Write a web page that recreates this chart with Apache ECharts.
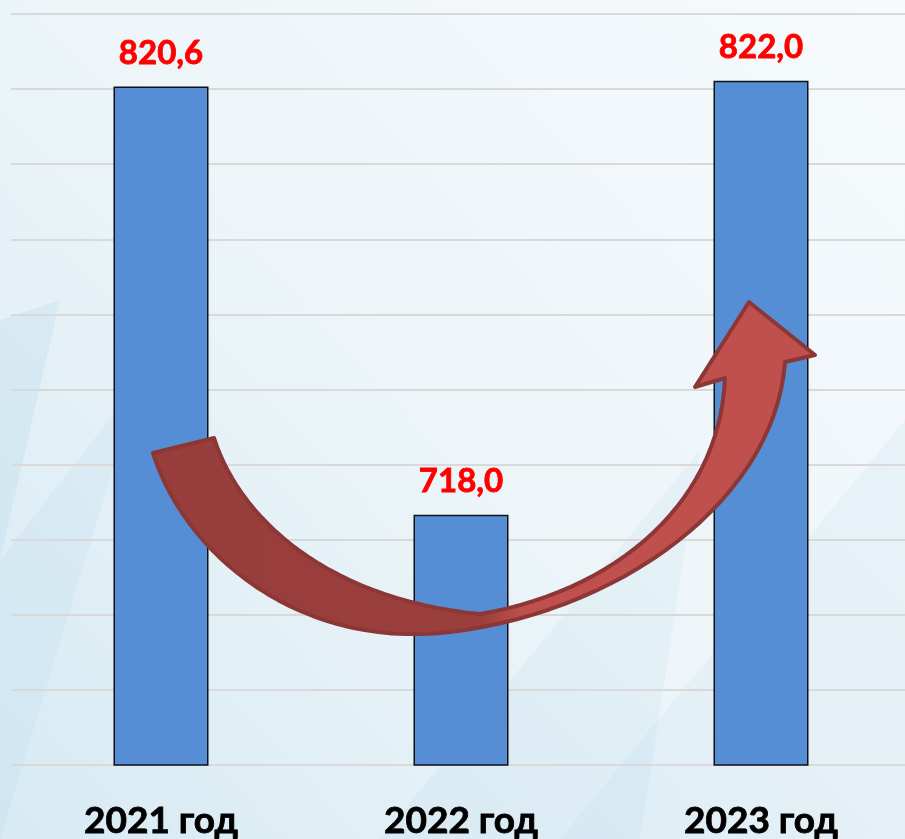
<!DOCTYPE html>
<html>
<head>
<meta charset="utf-8">
<script src="https://cdn.jsdelivr.net/npm/echarts@6/dist/echarts.min.js"></script>
<style>
  html, body { margin: 0; padding: 0; }
  #chart { width: 905px; height: 839px; }
</style>
</head>
<body>
<div id="chart"></div>
<script>
// data
const years = ['2021 год', '2022 год', '2023 год'];
const values = [820.6, 718.0, 822.0];

// axis: hidden labels, gridlines every 18 units
const axisMin = 658;
const axisMax = 838;
const axisStep = 18;

// sample a cubic bezier into points (for the curved arrow outline)
function bezier(p0, p1, p2, p3, n) {
  const pts = [];
  for (let i = 1; i <= n; i++) {
    const t = i / n, u = 1 - t;
    pts.push([
      u * u * u * p0[0] + 3 * u * u * t * p1[0] + 3 * u * t * t * p2[0] + t * t * t * p3[0],
      u * u * u * p0[1] + 3 * u * u * t * p1[1] + 3 * u * t * t * p2[1] + t * t * t * p3[1],
    ]);
  }
  return pts;
}

const arrowPts = [[153, 453], [214, 438]]
  .concat(bezier([214, 438], [240, 520], [330, 600], [480, 614], 30))
  .concat(bezier([480, 614], [620, 590], [720, 500], [725, 378], 30))
  .concat([[695, 387], [749, 302], [815, 355], [785, 362]])
  .concat(bezier([785, 362], [775, 500], [620, 612], [450, 632], 30))
  .concat(bezier([450, 632], [300, 650], [185, 555], [153, 453], 30));

const chart = echarts.init(document.getElementById('chart'));

const option = {
  animation: false,
  backgroundColor: new echarts.graphic.LinearGradient(1, 0, 0, 1, [
    { offset: 0, color: '#f6fafd' },
    { offset: 0.5, color: '#edf5f9' },
    { offset: 1, color: '#d7eaf3' },
  ]),
  grid: {
    left: 11,
    top: 14,
    bottom: 74,
    right: -6,
    outerBoundsMode: 'none',
  },
  xAxis: {
    type: 'category',
    data: years,
    axisLine: { show: false },
    axisTick: { show: false },
    axisLabel: {
      margin: 38,
      color: '#000',
      fontFamily: 'Lato',
      fontWeight: 'bold',
      fontSize: 37,
      textBorderColor: '#000',
      textBorderWidth: 0.8,
    },
  },
  yAxis: {
    type: 'value',
    min: axisMin,
    max: axisMax,
    interval: axisStep,
    axisLabel: { show: false },
    axisLine: { show: false },
    axisTick: { show: false },
    splitLine: {
      lineStyle: { color: '#d9d9d9', width: 2 },
    },
  },
  series: [
    {
      type: 'bar',
      data: values,
      barWidth: 95,
      itemStyle: {
        color: '#558ed5',
        borderColor: '#111',
        borderWidth: 1.5,
      },
      label: {
        show: true,
        position: 'top',
        distance: 17,
        color: '#ff0000',
        fontFamily: 'Lato',
        fontWeight: 'bold',
        fontSize: 33,
        textBorderColor: '#ff0000',
        textBorderWidth: 0.8,
        formatter: (p) => p.value.toFixed(1).replace('.', ','),
      },
      z: 2,
    },
  ],
  graphic: [
    // faint background facets
    {
      type: 'polygon',
      z: -10,
      silent: true,
      shape: { points: [[0, 320], [60, 300], [0, 560]] },
      style: { fill: 'rgba(150,200,225,0.16)' },
    },
    {
      type: 'polygon',
      z: -10,
      silent: true,
      shape: { points: [[0, 560], [140, 380], [0, 839]] },
      style: { fill: 'rgba(150,200,225,0.11)' },
    },
    {
      type: 'polygon',
      z: -10,
      silent: true,
      shape: { points: [[560, 839], [905, 420], [905, 839]] },
      style: { fill: 'rgba(170,210,230,0.13)' },
    },
    {
      type: 'polygon',
      z: -10,
      silent: true,
      shape: { points: [[380, 839], [700, 450], [640, 839]] },
      style: { fill: 'rgba(160,205,228,0.12)' },
    },
    // curved arrow annotation
    {
      type: 'polygon',
      z: 100,
      silent: true,
      shape: { points: arrowPts },
      style: {
        fill: new echarts.graphic.LinearGradient(0, 0, 1, 0, [
          { offset: 0, color: '#973d3b' },
          { offset: 0.5, color: '#9b3f3d' },
          { offset: 0.56, color: '#c0504d' },
          { offset: 1, color: '#c0504d' },
        ]),
        stroke: '#8c3735',
        lineWidth: 4,
        lineJoin: 'round',
      },
    },
  ],
};

chart.setOption(option);
</script>
</body>
</html>
